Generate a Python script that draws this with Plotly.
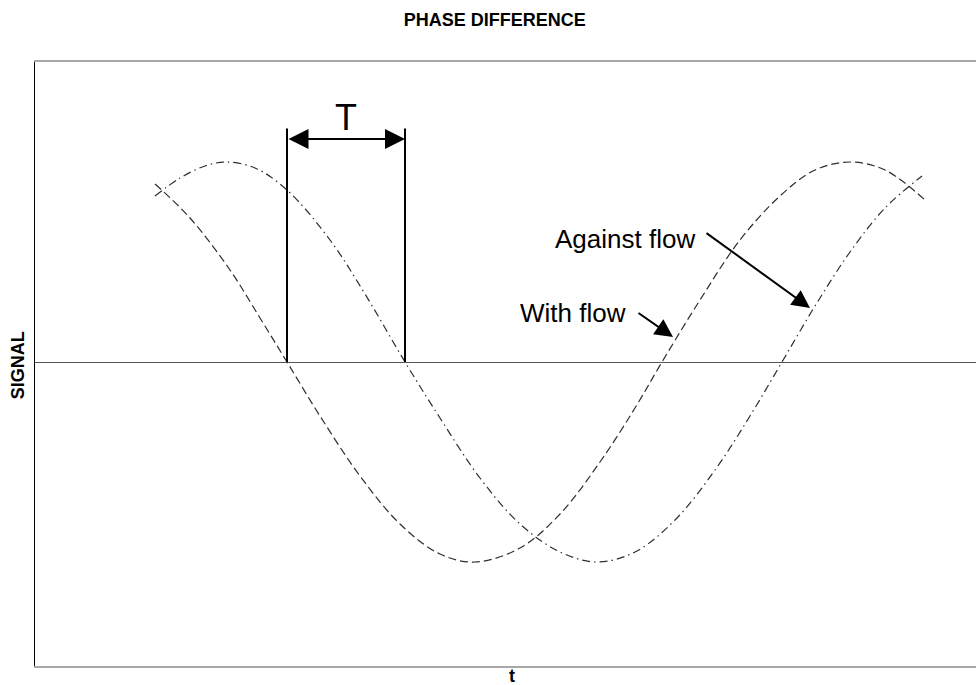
import plotly.graph_objects as go

# Time axis (arbitrary units) and signal amplitude for the two transit signals
t_with = [12.0, 15.5, 19.5, 22.5, 25.2, 28.5, 32.5, 36.5, 40.5, 44.0, 48.5, 52.5,
          56.5, 60.0, 62.7, 66.5, 70.5, 74.5, 78.0, 81.5, 85.0, 89.0]
s_with = [0.89, 0.72, 0.46, 0.22, 0.0, -0.27, -0.57, -0.81, -0.96, -1.0, -0.93, -0.76,
          -0.50, -0.23, 0.0, 0.31, 0.61, 0.83, 0.96, 1.0, 0.96, 0.81]

t_against = [12.0, 14.5, 17.0, 19.1, 22.0, 25.2, 29.5, 33.0, 37.0, 40.5, 44.5, 48.5,
             52.5, 56.2, 60.0, 64.0, 68.0, 71.5, 74.7, 78.0, 81.5, 85.0, 88.7]
s_against = [0.83, 0.92, 0.98, 1.0, 0.97, 0.86, 0.61, 0.34, 0.0, -0.28, -0.58, -0.81,
             -0.95, -1.0, -0.95, -0.79, -0.54, -0.27, 0.0, 0.28, 0.55, 0.77, 0.93]

# Zero crossings bounding the transit-time difference T
t_cross_with = t_with[s_with.index(0.0)]
t_cross_against = t_against[s_against.index(0.0)]

FONT = "Liberation Sans, Arial, sans-serif"
CURVE = "#2e2e2e"

fig = go.Figure()
fig.add_trace(go.Scatter(
    x=t_with, y=s_with, mode="lines", name="With flow",
    line=dict(color=CURVE, width=1.2, dash="8px,4px", shape="spline", smoothing=1.0),
    hoverinfo="skip"))
fig.add_trace(go.Scatter(
    x=t_against, y=s_against, mode="lines", name="Against flow",
    line=dict(color=CURVE, width=1.2, dash="8px,4px,1.5px,4px", shape="spline", smoothing=1.0),
    hoverinfo="skip"))

# Vertical markers at the two zero crossings
for tc in (t_cross_with, t_cross_against):
    fig.add_shape(type="line", xref="x", yref="y", x0=tc, x1=tc, y0=0, y1=1.167,
                  line=dict(color="black", width=2))

annotations = [
    # double-headed arrow for T
    dict(x=t_cross_against, y=1.115, ax=t_cross_with, ay=1.115, xref="x", yref="y",
         axref="x", ayref="y", text="", showarrow=True, arrowside="end+start",
         arrowhead=2, startarrowhead=2, arrowsize=2.0, startarrowsize=2.0,
         arrowwidth=2, arrowcolor="black", standoff=0, startstandoff=0),
    dict(x=(t_cross_with + t_cross_against) / 2, y=1.225, xref="x", yref="y",
         text="T", showarrow=False, font=dict(family=FONT, size=36, color="black")),
    # curve labels
    dict(x=59.0, y=0.615, xref="x", yref="y", text="Against flow", showarrow=False,
         font=dict(family=FONT, size=26, color="black")),
    dict(x=53.8, y=0.245, xref="x", yref="y", text="With flow", showarrow=False,
         font=dict(family=FONT, size=26, color="black")),
    dict(x=77.5, y=0.27, ax=67.0, ay=0.65, xref="x", yref="y", axref="x", ayref="y",
         text="", showarrow=True, arrowhead=2, arrowsize=1.8, arrowwidth=2,
         arrowcolor="black", standoff=0),
    dict(x=63.8, y=0.125, ax=60.2, ay=0.25, xref="x", yref="y", axref="x", ayref="y",
         text="", showarrow=True, arrowhead=2, arrowsize=1.8, arrowwidth=2,
         arrowcolor="black", standoff=0),
    # axis labels
    dict(x=-0.018, y=0.498, xref="paper", yref="paper", text="<b>SIGNAL</b>",
         textangle=-90, xanchor="center", yanchor="middle", showarrow=False,
         font=dict(family=FONT, size=18, color="black")),
    dict(x=0.507, y=-0.0166, xref="paper", yref="paper", text="<b>t</b>",
         xanchor="center", yanchor="middle", showarrow=False,
         font=dict(family=FONT, size=18, color="black")),
]

fig.update_layout(
    width=976, height=685,
    margin=dict(l=35, r=0, t=62, b=19),
    paper_bgcolor="white", plot_bgcolor="white",
    showlegend=False,
    title=dict(text="<b>PHASE DIFFERENCE</b>", x=0.507, xanchor="center",
               y=0.971, yanchor="middle", xref="container", yref="container",
               font=dict(family=FONT, size=18, color="black")),
    annotations=annotations,
    xaxis=dict(range=[0, 94.1], showgrid=False, zeroline=False, showticklabels=False,
               ticks="", showline=True, mirror=True, linecolor="#a8a8a8", linewidth=2,
               fixedrange=True),
    yaxis=dict(range=[-1.52, 1.5], showgrid=False, zeroline=True, zerolinecolor="#555555",
               zerolinewidth=1, showticklabels=False, ticks="", showline=True,
               mirror=False, linecolor="black", linewidth=1, fixedrange=True),
)

fig.write_html("out.html")
